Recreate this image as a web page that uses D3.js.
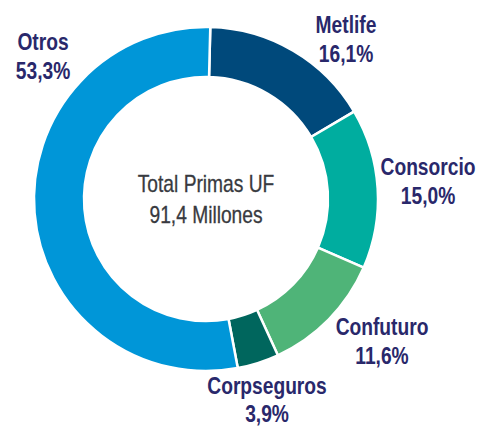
<!DOCTYPE html>
<html>
<head>
<meta charset="utf-8">
<script src="https://cdn.jsdelivr.net/npm/d3@7"></script>
<style>
  body { margin: 0; background: #fff; }
  svg text { font-family: "Liberation Sans", Arial, sans-serif; }
</style>
</head>
<body>
<div class="chart"></div>
<script>
var companies = ['Metlife', 'Consorcio', 'Confuturo', 'Corpseguros', 'Otros'];
var shares = [16.1, 15.0, 11.6, 3.9, 53.3];
var shareLabels = ['16,1%', '15,0%', '11,6%', '3,9%', '53,3%'];
var centerLines = ['Total Primas UF', '91,4 Millones'];

var width = 477,
    height = 428,
    cx = 206, cy = 199,
    outer = 172, inner = 122,
    narrow = 'scale(0.8,1)';   // fake a condensed face

var color = d3.scaleOrdinal()
    .domain(companies)
    .range(['#00497b', '#00ad9f', '#4fb478', '#00665d', '#0096d8']);

// label anchor points: [x center, first baseline, gap to second line]
var labelPos = {
    Metlife: [346, 33, 29],
    Consorcio: [428, 175, 29],
    Confuturo: [382, 335, 29],
    Corpseguros: [267, 394, 28],
    Otros: [43, 50, 29]
};

var svg = d3.select('div.chart')
    .append('svg')
        .attr('width', width)
        .attr('height', height);

var pie = d3.pie()
    .sort(null)
    .startAngle(0.025)
    .endAngle(0.025 + 2 * Math.PI)
    .value((d, i) => shares[i]);

var arc = d3.arc()
    .innerRadius(inner)
    .outerRadius(outer);

var g = svg.append('g')
    .attr('transform', 'translate(' + cx + ',' + cy + ')');

g.selectAll('path')
    .data(pie(companies))
    .enter()
    .append('path')
        .attr('d', arc)
        .attr('fill', (d) => color(d.data))
        .attr('stroke', '#fff')
        .attr('stroke-width', 2.5);

g.selectAll('text.center')
    .data(centerLines)
    .enter()
    .append('text')
        .attr('class', 'center')
        .attr('transform', (d, i) => 'translate(0,' + (-7 + i * 31) + ') ' + narrow)
        .attr('text-anchor', 'middle')
        .style('font-size', '24px')
        .style('fill', '#383a40')
        .style('stroke', '#383a40')
        .style('stroke-width', 0.3)
        .text((d) => d);

var labels = svg.selectAll('g.label')
    .data(companies)
    .enter()
    .append('g')
        .attr('class', 'label')
        .attr('transform', (d) => 'translate(' + labelPos[d][0] + ',' + labelPos[d][1] + ')');

labels.append('text')
    .attr('transform', narrow)
    .attr('text-anchor', 'middle')
    .style('font-size', '24px')
    .style('font-weight', 'bold')
    .style('fill', '#29286b')
    .text((d) => d);

labels.append('text')
    .attr('transform', (d) => 'translate(0,' + labelPos[d][2] + ') ' + narrow)
    .attr('text-anchor', 'middle')
    .style('font-size', '24px')
    .style('font-weight', 'bold')
    .style('fill', '#29286b')
    .text((d, i) => shareLabels[i]);
</script>
</body>
</html>
